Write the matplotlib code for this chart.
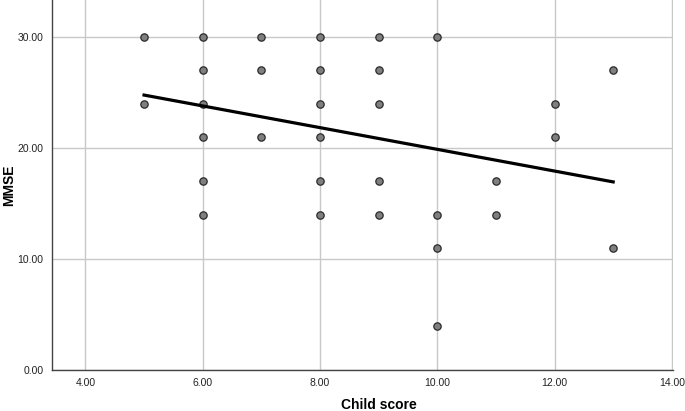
import numpy as np
import matplotlib.pyplot as plt

plt.rcParams['font.family'] = ['Liberation Sans', 'DejaVu Sans']

child_score = [5, 5,
               6, 6, 6, 6, 6, 6,
               7, 7, 7,
               8, 8, 8, 8, 8, 8,
               9, 9, 9, 9, 9,
               10, 10, 10, 10,
               11, 11,
               12, 12,
               13, 13]
mmse = [30, 24,
        30, 27, 24, 21, 17, 14,
        30, 27, 21,
        30, 27, 24, 21, 17, 14,
        30, 27, 24, 17, 14,
        30, 14, 11, 4,
        17, 14,
        24, 21,
        27, 11]
x_ticks = [4, 6, 8, 10, 12, 14]
y_ticks = [0, 10, 20, 30]

x = np.array(child_score, dtype=float)
y = np.array(mmse, dtype=float)
# linear fit line
slope, icpt = np.polyfit(x, y, 1)

fig = plt.figure(figsize=(6.85, 4.11), dpi=100)
ax = fig.add_axes([52 / 685, 41 / 411, 621 / 685, 370 / 411])

ax.grid(True, color='#c8c8c8', linewidth=1.0)
ax.set_axisbelow(True)
ax.scatter(x, y, s=28, color='#7f7f7f', edgecolors='#2a2a2a', linewidths=0.9, zorder=3)
xl = np.array([x.min(), x.max()])
ax.plot(xl, slope * xl + icpt, color='black', linewidth=2.3, zorder=4)

ax.set_xlim(3.43, 14.02)
ax.set_ylim(0, 33.33)
ax.set_xticks(x_ticks)
ax.set_xticklabels(['%.2f' % v for v in x_ticks])
ax.set_yticks(y_ticks)
ax.set_yticklabels(['%.2f' % v for v in y_ticks])
ax.tick_params(length=0, labelsize=7.5, pad=6, colors='#222222')

for s in ['top', 'right']:
    ax.spines[s].set_visible(False)
for s in ['left', 'bottom']:
    ax.spines[s].set_color('#444444')
    ax.spines[s].set_linewidth(1.0)

fig.text(379 / 685, 1 - 405 / 411, 'Child score', ha='center', va='center',
         fontsize=10, fontweight='bold')
fig.text(9 / 685, 1 - 185 / 411, 'MMSE', ha='center', va='center',
         rotation=90, fontsize=10, fontweight='bold')

fig.savefig('out.png', dpi=100)
